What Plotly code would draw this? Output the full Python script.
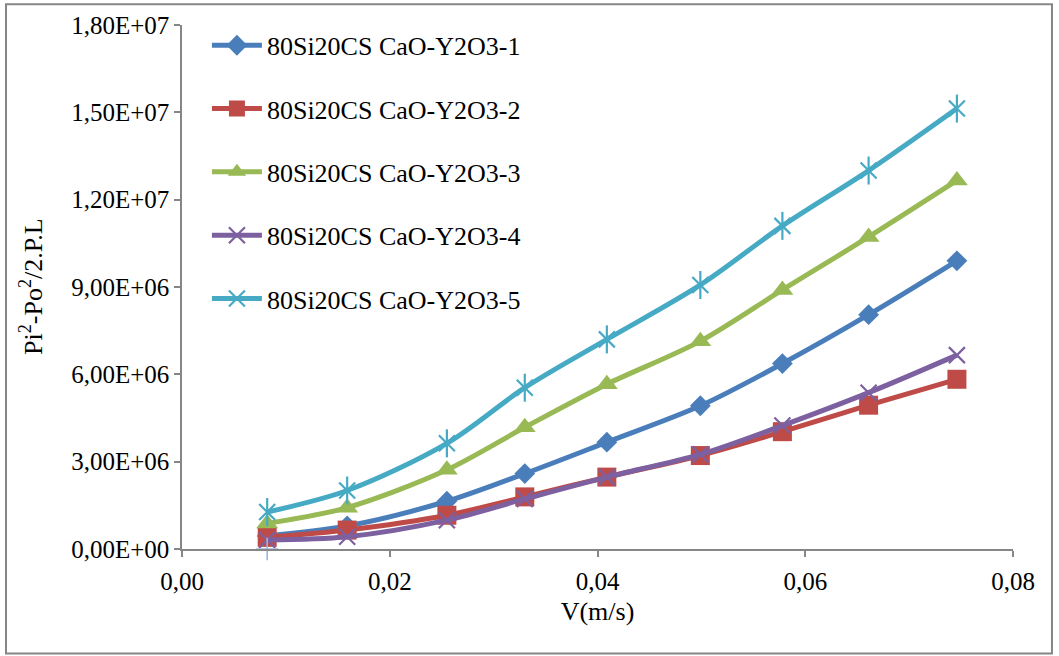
import plotly.graph_objects as go

# Flow velocity (m/s)
velocity = [0.0082, 0.0159, 0.0255, 0.0330, 0.0409, 0.0499, 0.0578, 0.0661, 0.0746]

# (Pi^2 - Po^2) / (2.P.L) for each sample
sample_1 = [0.45e6, 0.79e6, 1.64e6, 2.59e6, 3.67e6, 4.92e6, 6.37e6, 8.05e6, 9.90e6]
sample_2 = [0.40e6, 0.65e6, 1.16e6, 1.79e6, 2.47e6, 3.21e6, 4.03e6, 4.94e6, 5.83e6]
sample_3 = [0.88e6, 1.42e6, 2.72e6, 4.18e6, 5.66e6, 7.14e6, 8.90e6, 10.72e6, 12.66e6]
sample_4 = [0.31e6, 0.42e6, 0.99e6, 1.72e6, 2.47e6, 3.25e6, 4.24e6, 5.37e6, 6.66e6]
sample_5 = [1.27e6, 2.01e6, 3.63e6, 5.54e6, 7.20e6, 9.07e6, 11.10e6, 13.00e6, 15.13e6]

series_names = [
    "80Si20CS CaO-Y2O3-1",
    "80Si20CS CaO-Y2O3-2",
    "80Si20CS CaO-Y2O3-3",
    "80Si20CS CaO-Y2O3-4",
    "80Si20CS CaO-Y2O3-5",
]

# Lone marker sitting on the x axis at the first velocity
stray_x = [0.0082]
stray_y = [0.0]

x_tick_vals = [0.0, 0.02, 0.04, 0.06, 0.08]
x_tick_text = ["0,00", "0,02", "0,04", "0,06", "0,08"]
y_tick_vals = [0, 3e6, 6e6, 9e6, 12e6, 15e6, 18e6]
y_tick_text = ["0,00E+00", "3,00E+06", "6,00E+06", "9,00E+06",
               "1,20E+07", "1,50E+07", "1,80E+07"]

FONT = "Times New Roman, Liberation Serif, Tinos, DejaVu Serif, serif"

styles = [
    dict(color="#4A7EBB", symbol="diamond", size=16, lw=0),
    dict(color="#BE4B48", symbol="square", size=19, lw=0),
    dict(color="#98B954", symbol="triangle-up", size=19, lw=0),
    dict(color="#7D60A0", symbol="x-thin", size=16, lw=2.2),
    dict(color="#46AAC5", symbol="x-thin", size=16, lw=2.2),
]
all_series = [sample_1, sample_2, sample_3, sample_4, sample_5]

fig = go.Figure()
for i, (name, ys, st) in enumerate(zip(series_names, all_series, styles)):
    fig.add_trace(go.Scatter(
        x=velocity, y=ys, name=name, mode="lines+markers",
        legendgroup=f"g{i}",
        line=dict(color=st["color"], width=5, shape="spline", smoothing=0.9),
        marker=dict(symbol=st["symbol"], size=st["size"], color=st["color"],
                    line=dict(color=st["color"], width=st["lw"])),
        cliponaxis=False,
    ))

# vertical stroke that turns the cyan "x" into an asterisk
fig.add_trace(go.Scatter(
    x=velocity, y=sample_5, mode="markers", showlegend=False, hoverinfo="skip",
    marker=dict(symbol="line-ns", size=20, color="#46AAC5",
                line=dict(color="#46AAC5", width=2.2)),
    cliponaxis=False,
))

fig.add_trace(go.Scatter(
    x=stray_x, y=stray_y, mode="markers", showlegend=False, hoverinfo="skip",
    marker=dict(symbol="cross-thin", size=16, color="#9DB5E0",
                line=dict(color="#9DB5E0", width=1.6)),
    cliponaxis=False,
))

axis_common = dict(
    showline=True, linecolor="#868686", linewidth=1.5,
    ticks="outside", tickcolor="#868686", ticklen=6, tickwidth=1.5,
    showgrid=False, zeroline=False,
    tickfont=dict(family=FONT, size=25, color="black"),
)

fig.update_layout(
    width=1059, height=656,
    margin=dict(l=182, r=46, t=22, b=107),
    paper_bgcolor="white", plot_bgcolor="white",
    font=dict(family=FONT, color="black"),
    xaxis=dict(range=[0, 0.08], tickvals=x_tick_vals, ticktext=x_tick_text,
               ticklabelstandoff=3,
               title=dict(text="V(m/s)", font=dict(family=FONT, size=26), standoff=8),
               **axis_common),
    yaxis=dict(range=[0, 1.8e7], tickvals=y_tick_vals, ticktext=y_tick_text,
               **axis_common),
    annotations=[dict(text="Pi<sup>2</sup>-Po<sup>2</sup>/2.P.L",
                      xref="paper", yref="paper", x=-0.1817, y=0.5,
                      xanchor="center", yanchor="middle", textangle=-90,
                      showarrow=False, font=dict(family=FONT, size=26, color="black"))],
    legend=dict(x=0.03, y=1.006, xanchor="left", yanchor="top",
                font=dict(family=FONT, size=26, color="black"),
                bgcolor="rgba(0,0,0,0)", tracegroupgap=26.5, itemwidth=50),
    shapes=[dict(type="rect", xref="paper", yref="paper",
                 x0=-0.2118, x1=1.0469, y0=-0.1992, y1=1.0398,
                 line=dict(color="#868686", width=2), fillcolor="rgba(0,0,0,0)",
                 layer="below")],
)

fig.write_html("out.html")
